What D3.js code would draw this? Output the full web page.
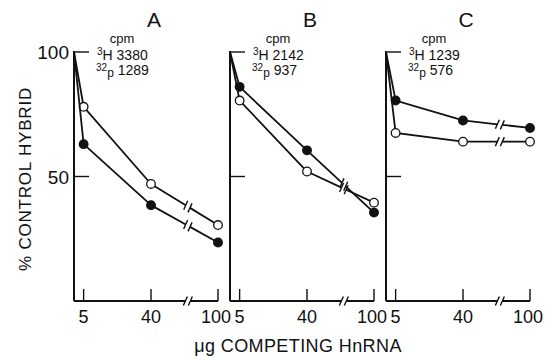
<!DOCTYPE html>
<html>
<head>
<meta charset="utf-8">
<script src="https://cdn.jsdelivr.net/npm/d3@7"></script>
<style>
  body { margin: 0; background: #fff; }
  svg { display: block; font-family: "Liberation Sans", Arial, sans-serif; }
  text { fill: #111; }
</style>
</head>
<body>
<div id="chart"></div>
<script>
// Data
const panels = ['A', 'B', 'C'];
const doses = [0, 5, 40, 100];          // µg competing HnRNA
const xTicks = [5, 40, 100];
const yTicks = [100, 50];
const cpmH = [3380, 2142, 1239];
const cpmP = [1289, 937, 576];
// % control hybrid, open circles (one array per panel)
const openA = [100, 78, 47, 30.5];
const openB = [100, 80.5, 52, 39.5];
const openC = [100, 67.5, 64, 64];
// filled circles
const filledA = [100, 63, 38.5, 23.5];
const filledB = [100, 86, 60.5, 35.5];
const filledC = [100, 80.5, 72.5, 69.5];

const openSeries = [openA, openB, openC];
const filledSeries = [filledA, filledB, filledC];

const width = 546;
const height = 360;
const breakFrac = 0.55; // where the // break sits between 40 and 100

const svg = d3.select('#chart')
    .append('svg')
    .attr('width', width)
    .attr('height', height);

// Scales
const panelX = d3.scalePoint()
    .domain(panels)
    .range([74, 386]);

const x = d3.scaleLinear()
    .domain([0, 40, 100])
    .range([0, 77, 144]);

const y = d3.scaleLinear()
    .domain([0, 100])
    .range([301, 52]);

const line = d3.line()
    .x((d) => x(d.dose))
    .y((d) => y(d.value));

// Draw a segment with a "//" break in the middle
function brokenSegment(g, x1, y1, x2, y2, t, sw) {
    const dx = x2 - x1, dy = y2 - y1;
    const len = Math.hypot(dx, dy);
    const ux = dx / len, uy = dy / len;
    const cx = x1 + dx * t, cy = y1 + dy * t;
    const gap = 2.5;
    g.append('line')
        .attr('x1', x1).attr('y1', y1)
        .attr('x2', cx - ux * gap).attr('y2', cy - uy * gap)
        .attr('stroke', '#111').attr('stroke-width', sw);
    g.append('line')
        .attr('x1', cx + ux * gap).attr('y1', cy + uy * gap)
        .attr('x2', x2).attr('y2', y2)
        .attr('stroke', '#111').attr('stroke-width', sw);
    [-gap, gap].forEach((o) => {
        const px = cx + ux * o, py = cy + uy * o;
        g.append('line')
            .attr('x1', px - 2).attr('y1', py + 4.5)
            .attr('x2', px + 2).attr('y2', py - 4.5)
            .attr('stroke', '#111').attr('stroke-width', 1.4);
    });
}

panels.forEach((name, i) => {
    const g = svg.append('g')
        .attr('transform', `translate(${panelX(name)}, 0)`);

    // Y axis line + inward ticks
    g.append('line')
        .attr('x1', 0).attr('y1', y(100) - 1)
        .attr('x2', 0).attr('y2', y(0))
        .attr('stroke', '#111').attr('stroke-width', 2);
    g.selectAll('.ytick')
        .data(yTicks)
        .join('line')
        .attr('class', 'ytick')
        .attr('x1', 0).attr('x2', 15)
        .attr('y1', (d) => y(d)).attr('y2', (d) => y(d))
        .attr('stroke', '#111').attr('stroke-width', 1.4);

    if (i === 0) {
        g.selectAll('.ylab')
            .data(yTicks)
            .join('text')
            .attr('class', 'ylab')
            .attr('x', -5)
            .attr('y', (d) => y(d) + 7)
            .attr('text-anchor', 'end')
            .style('font-size', '19px')
            .text((d) => d);
    }

    // X axis with break
    const x40 = x(40), x100 = x(100), yb = y(0);
    g.append('line')
        .attr('x1', 0).attr('y1', yb).attr('x2', x40).attr('y2', yb)
        .attr('stroke', '#111').attr('stroke-width', 2);
    brokenSegment(g, x40, yb, x100, yb, breakFrac, 2);
    g.selectAll('.xtick')
        .data(xTicks)
        .join('line')
        .attr('class', 'xtick')
        .attr('x1', (d) => x(d)).attr('x2', (d) => x(d))
        .attr('y1', yb).attr('y2', yb - 12)
        .attr('stroke', '#111').attr('stroke-width', 1.4);
    g.selectAll('.xlab')
        .data(xTicks)
        .join('text')
        .attr('class', 'xlab')
        .attr('x', (d) => x(d) - (d === 100 ? 2 : 0))
        .attr('y', 323)
        .attr('text-anchor', 'middle')
        .style('font-size', '18px')
        .text((d) => d);

    // Panel letter
    g.append('text')
        .attr('x', 80).attr('y', 27)
        .attr('text-anchor', 'middle')
        .style('font-size', '21px')
        .text(name);

    // cpm annotation
    g.append('text')
        .attr('x', 48).attr('y', 43)
        .attr('text-anchor', 'middle')
        .style('font-size', '13px')
        .text('cpm');
    const tH = g.append('text')
        .attr('x', 23).attr('y', 60)
        .style('font-size', '14px');
    tH.append('tspan').attr('dy', -5).style('font-size', '10px').text('3');
    tH.append('tspan').attr('dy', 5).text('H ' + cpmH[i]);
    const tP = g.append('text')
        .attr('x', 22).attr('y', 75)
        .style('font-size', '14px');
    tP.append('tspan').attr('dy', -4).style('font-size', '10px').text('32');
    tP.append('tspan').attr('dy', 6).style('font-size', '12px').text('p');
    tP.append('tspan').attr('dy', -2).text(' ' + cpmP[i]);

    // Curves
    [openSeries[i], filledSeries[i]].forEach((vals, k) => {
        const pts = doses.map((dose, j) => ({ dose, value: vals[j] }));
        g.append('path')
            .datum(pts.slice(0, 3))
            .attr('d', line)
            .attr('fill', 'none')
            .attr('stroke', '#111')
            .attr('stroke-width', 1.8);
        const a = pts[2], b = pts[3];
        brokenSegment(g, x(a.dose), y(a.value), x(b.dose), y(b.value), breakFrac, 1.8);
        g.selectAll('.pt' + k)
            .data(pts.slice(1))
            .join('circle')
            .attr('class', 'pt' + k)
            .attr('cx', (d) => x(d.dose))
            .attr('cy', (d) => y(d.value))
            .attr('r', 4.3)
            .attr('fill', k === 0 ? '#fff' : '#111')
            .attr('stroke', '#111')
            .attr('stroke-width', 1.3);
    });
});

// Axis titles
svg.append('text')
    .attr('transform', 'translate(31, 179) rotate(-90)')
    .attr('text-anchor', 'middle')
    .style('font-size', '17px')
    .style('letter-spacing', '0.8px')
    .text('% CONTROL HYBRID');

svg.append('text')
    .attr('x', 298).attr('y', 352)
    .attr('text-anchor', 'middle')
    .style('font-size', '18px')
    .style('letter-spacing', '0.4px')
    .text('μg COMPETING HnRNA');
</script>
</body>
</html>
